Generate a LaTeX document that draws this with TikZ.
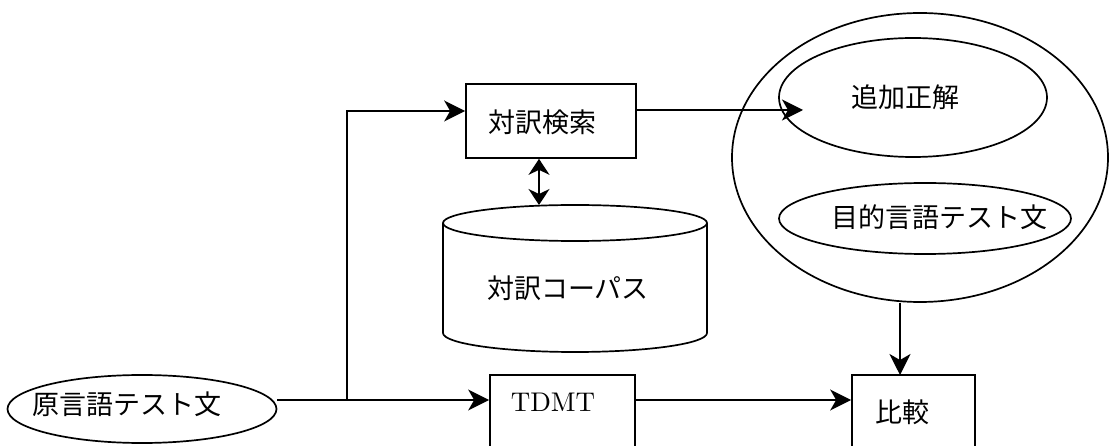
\documentclass[tikz,border=0pt]{standalone}
\usepackage{fontspec}
\newfontfamily\jp{Noto Sans CJK JP}
\newfontfamily\lmten{lmroman10-regular}[Extension=.otf]
\usetikzlibrary{shapes.geometric,arrows.meta}
\begin{document}
\begin{tikzpicture}[x=1pt,y=-1pt,
  line width=1.7pt,
  arr/.style={-{Stealth[length=21pt,width=21pt,inset=6pt]}},
  dbl/.style={{Stealth[length=16pt,width=21pt,inset=5pt]}-{Stealth[length=16pt,width=21pt,inset=5pt]}},
  box/.style={draw, rectangle, inner sep=0pt},
  ell/.style={draw, ellipse, inner sep=0pt},
  lbl/.style={font=\jp\fontsize{27}{27}\selectfont, inner sep=0pt},
  lat/.style={font=\lmten\fontsize{27}{27}\selectfont, inner sep=0pt},
]
\fill[white] (0,0) rectangle (1109,446);
\clip (0,0) rectangle (1109,446);

% source sentence
\node[ell, minimum width=269, minimum height=68] (src) at (142,409) {};
\node[lbl] (srcl) at (127,404) {原言語テスト文};

% search box
\node[box, minimum width=170, minimum height=74] (search) at (551,121) {};
\node[lbl] (searchl) at (542,122) {対訳検索};

% corpus cylinder
\draw (575,223) ellipse [x radius=132pt, y radius=18pt];
\draw (443,223) -- (443,333) arc[start angle=180,end angle=360,x radius=132pt,y radius=19pt] -- (707,223);
\coordinate (dbtop) at (539,205);
\node[lbl] (corpusl) at (568,288) {対訳コーパス};

% TDMT
\node[box, minimum width=145, minimum height=90] (tdmt) at (562.5,420) {};
\node[lat] (tdmtl) at (553,402) {TDMT};

% compare
\node[box, minimum width=123, minimum height=90] (cmp) at (913.5,420) {};
\node[lbl] (cmpl) at (902,412) {比較};

% answers
\node[ell, minimum width=376, minimum height=289] (big) at (920,157.5) {};
\node[ell, minimum width=268, minimum height=119] (ans) at (913,97.5) {};
\node[lbl] (ansl) at (905,97) {追加正解};
\node[ell, minimum width=292, minimum height=71] (tgt) at (925,218.5) {};
\node[lbl] (tgtl) at (939,217) {目的言語テスト文};

% connectors
\coordinate (j) at (347,400);
\coordinate (anstip) at (803,110);
\coordinate (cmptop) at (900,375);
\draw[arr] (src.east |- j) -- (tdmt.west |- j);
\draw[arr] (j) |- ([yshift=10pt]search.west);
\draw[arr] ([yshift=11pt]search.east) -- (anstip);
\draw[dbl] (search.south -| dbtop) -- (dbtop);
\draw[arr] (tdmt.east |- j) -- (cmp.west |- j);
\draw[arr] (cmptop |- big.south) -- (cmptop);
\end{tikzpicture}
\end{document}
